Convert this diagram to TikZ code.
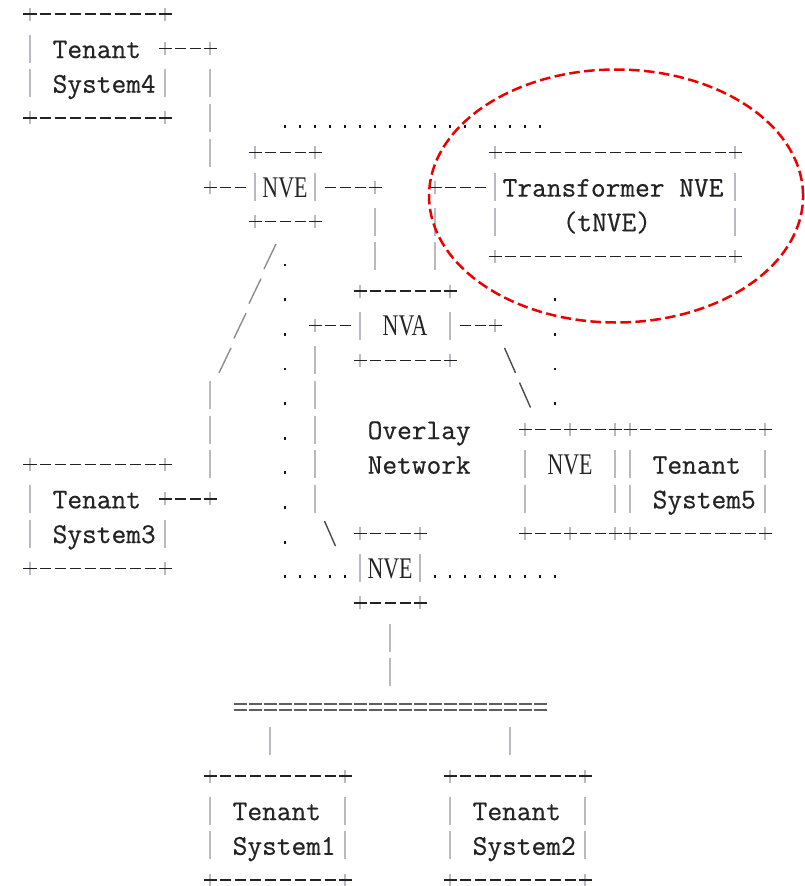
\documentclass[tikz,border=0pt]{standalone}
\usepackage{fontspec}
\usepackage{graphicx}
\newfontfamily\serifnve{Liberation Serif}
\newfontfamily\monolab{lmmono12-regular.otf}[FakeBold=0.5]

\definecolor{ink}{RGB}{35,35,35}
\definecolor{pipe}{RGB}{185,186,192}
\definecolor{dotc}{RGB}{20,20,20}
\definecolor{slashc}{RGB}{140,140,148}
\definecolor{bslashc}{RGB}{75,75,75}
\definecolor{eqc}{RGB}{95,95,95}
\definecolor{ringred}{RGB}{235,0,0}

\tikzset{
  dashrun/.style={draw=ink, line width=1.3pt, dash pattern=on 11pt off 4pt},
  piperun/.style={draw=pipe, line width=1.6pt, dash pattern=on 28pt off 6.64pt},
  plush/.style={draw=ink, line width=1.3pt},
  plusv/.style={draw=pipe, line width=1.6pt},
  dotrow/.style={draw=dotc, line width=2.8pt, dash pattern=on 2.8pt off 12.2pt},
  dotcol/.style={draw=dotc, line width=2.8pt, dash pattern=on 2.8pt off 31.84pt},
  fwd/.style={draw=slashc, line width=1.4pt},
  bwd/.style={draw=bslashc, line width=1.4pt},
  eqrun/.style={draw=eqc, line width=1.8pt, dash pattern=on 13pt off 2pt},
  monolabel/.style={inner sep=0pt, anchor=base west, text=ink,
    font=\monolab\fontsize{28.57pt}{30pt}\selectfont},
  seriflabel/.style={inner sep=0pt, anchor=base, text=ink,
    font=\serifnve\fontsize{30pt}{32pt}\selectfont},
  ring/.style={draw=ringred, line width=2.5pt, dash pattern=on 10.5pt off 4.5pt},
}

% character-cell helpers: one column = 15pt, one text row = 34.64pt
% row of '-' : {row}{first col}{last col}
\newcommand\ascH[3]{\draw[dashrun] ([xshift=-5.5pt]#2,#1) -- ([xshift=5.5pt]#3,#1);}
% column of '|' : {col}{first row}{last row}
\newcommand\ascV[3]{\draw[piperun] ([yshift=14pt]#1,#2) -- ([yshift=-14pt]#1,#3);}
% '+' : {col}{row}
\newcommand\ascX[2]{%
  \draw[plusv] ([yshift=6.5pt]#1,#2) -- ([yshift=-6.5pt]#1,#2);
  \draw[plush] ([xshift=-6.5pt]#1,#2) -- ([xshift=6.5pt]#1,#2);}
% row of '.' : {row}{first col}{last col}
\newcommand\ascDr[3]{\draw[dotrow] ([xshift=-1.4pt,yshift=-8.5pt]#2,#1) -- ([xshift=1.4pt,yshift=-8.5pt]#3,#1);}
% column of '.' : {col}{first row}{last row}
\newcommand\ascDc[3]{\draw[dotcol] ([yshift=-7.1pt]#1,#2) -- ([yshift=-9.9pt]#1,#3);}
% '/' and '\' : {col}{row}
\newcommand\ascF[2]{\draw[fwd] ([xshift=6pt,yshift=12.5pt]#1,#2) -- ([xshift=-6pt,yshift=-12.5pt]#1,#2);}
\newcommand\ascB[2]{\draw[bwd] ([xshift=-5.5pt,yshift=12.5pt]#1,#2) -- ([xshift=5.5pt,yshift=-12.5pt]#1,#2);}
% row of '=' : {row}{first col}{last col}
\newcommand\ascE[3]{%
  \draw[eqrun] ([xshift=-6.5pt,yshift=3.2pt]#2,#1) -- ([xshift=6.5pt,yshift=3.2pt]#3,#1);
  \draw[eqrun] ([xshift=-6.5pt,yshift=-3.2pt]#2,#1) -- ([xshift=6.5pt,yshift=-3.2pt]#3,#1);}
% top and bottom edges of a box : {c1}{r1}{c2}{r2}
\newcommand\ascBox[4]{%
  \ascH{#2}{#1}{#3}\ascX{#1}{#2}\ascX{#3}{#2}%
  \ascH{#4}{#1}{#3}\ascX{#1}{#4}\ascX{#3}{#4}}

\begin{document}
\begin{tikzpicture}[x=15pt, y=-34.64pt]
\useasboundingbox (-2,-0.40416) rectangle (51.6,25.1732);

% ---------- Tenant System4 ----------
\ascBox{0}{0}{9}{3}
\ascV{0}{1}{2}
\ascV{9}{2}{2}
\ascX{9}{1}
\node[monolabel] (ts4a) at ([xshift=-7.5pt,yshift=-9.4pt]2,1) {Tenant};
\node[monolabel] (ts4b) at ([xshift=-7.5pt,yshift=-9.4pt]2,2) {System4};
% link to the upper NVE
\ascH{1}{10}{11}
\ascX{12}{1}
\ascV{12}{2}{4}
\ascX{12}{5}
\ascH{5}{13}{14}

% ---------- upper NVE ----------
\ascBox{15}{4}{19}{6}
\ascV{15}{5}{5}
\ascV{19}{5}{5}
\node[seriflabel] (nveup) at ([yshift=-10pt]17,5) {\scalebox{0.73}[1]{NVE}};
\ascH{5}{20}{22}
\ascX{23}{5}
\ascV{23}{6}{7}

% ---------- Transformer NVE ----------
\ascX{27}{5}
\ascH{5}{28}{30}
\ascV{27}{6}{7}
\ascBox{31}{4}{47}{7}
\ascV{31}{5}{6}
\ascV{47}{5}{6}
\node[monolabel] (tnvea) at ([xshift=-7.5pt,yshift=-9.4pt]32,5) {Transformer NVE};
\node[monolabel] (tnveb) at ([xshift=-7.5pt,yshift=-9.4pt]36,6) {(tNVE)};

% ---------- NVA ----------
\ascBox{22}{8}{28}{10}
\ascV{22}{9}{9}
\ascV{28}{9}{9}
\node[seriflabel] (nva) at ([yshift=-10pt]25,9) {\scalebox{0.73}[1]{NVA}};
\ascX{19}{9}
\ascH{9}{20}{21}
\ascV{19}{10}{14}
\ascB{20}{15}
\ascH{9}{29}{30}
\ascX{31}{9}
\ascB{32}{10}
\ascB{33}{11}

% ---------- right NVE and Tenant System5 ----------
\ascBox{33}{12}{39}{15}
\ascX{36}{12}
\ascX{36}{15}
\ascV{33}{13}{14}
\ascV{39}{13}{14}
\node[seriflabel] (nveright) at ([yshift=-10pt]36,13) {\scalebox{0.73}[1]{NVE}};
\ascBox{40}{12}{49}{15}
\ascV{40}{13}{14}
\ascV{49}{13}{14}
\node[monolabel] (ts5a) at ([xshift=-7.5pt,yshift=-9.4pt]42,13) {Tenant};
\node[monolabel] (ts5b) at ([xshift=-7.5pt,yshift=-9.4pt]42,14) {System5};

% ---------- overlay network label ----------
\node[monolabel] (ovla) at ([xshift=-7.5pt,yshift=-9.4pt]23,12) {Overlay};
\node[monolabel] (ovlb) at ([xshift=-7.5pt,yshift=-9.4pt]23,13) {Network};

% ---------- Tenant System3 ----------
\ascF{16}{7}
\ascF{15}{8}
\ascF{14}{9}
\ascF{13}{10}
\ascV{12}{11}{13}
\ascX{12}{14}
\ascH{14}{10}{11}
\ascX{9}{14}
\ascBox{0}{13}{9}{16}
\ascV{0}{14}{15}
\ascV{9}{15}{15}
\node[monolabel] (ts3a) at ([xshift=-7.5pt,yshift=-9.4pt]2,14) {Tenant};
\node[monolabel] (ts3b) at ([xshift=-7.5pt,yshift=-9.4pt]2,15) {System3};

% ---------- dotted boundary of the overlay ----------
\ascDr{3}{17}{34}
\ascDc{17}{7}{15}
\ascDr{16}{17}{21}
\ascDr{16}{27}{35}
\ascDc{35}{8}{11}

% ---------- lower NVE ----------
\ascBox{22}{15}{26}{17}
\ascV{22}{16}{16}
\ascV{26}{16}{16}
\node[seriflabel] (nvelow) at ([yshift=-10pt]24,16) {\scalebox{0.73}[1]{NVE}};
\ascV{24}{18}{19}

% ---------- underlay segment and Tenant Systems 1, 2 ----------
\ascE{20}{14}{34}
\ascV{16}{21}{21}
\ascV{32}{21}{21}
\ascBox{12}{22}{21}{25}
\ascV{12}{23}{24}
\ascV{21}{23}{24}
\node[monolabel] (ts1a) at ([xshift=-7.5pt,yshift=-9.4pt]14,23) {Tenant};
\node[monolabel] (ts1b) at ([xshift=-7.5pt,yshift=-9.4pt]14,24) {System1};
\ascBox{28}{22}{37}{25}
\ascV{28}{23}{24}
\ascV{37}{23}{24}
\node[monolabel] (ts2a) at ([xshift=-7.5pt,yshift=-9.4pt]30,23) {Tenant};
\node[monolabel] (ts2b) at ([xshift=-7.5pt,yshift=-9.4pt]30,24) {System2};

% ---------- highlight round the transformer NVE ----------
\draw[ring] (39.07,5.254) ellipse [x radius=187pt, y radius=126.5pt];
\end{tikzpicture}
\end{document}
